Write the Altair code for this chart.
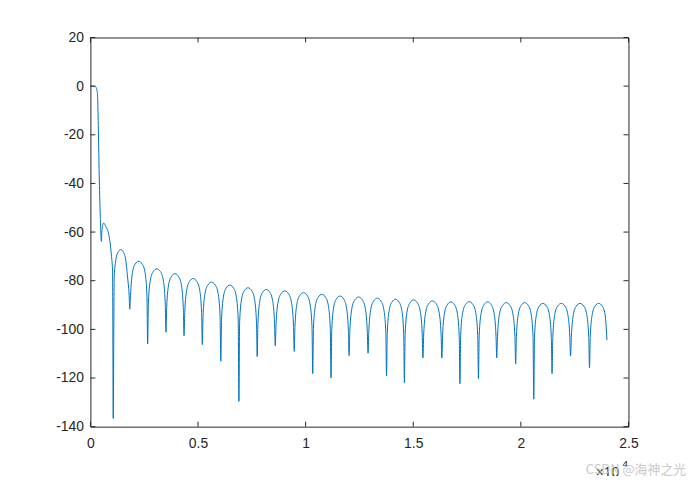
import altair as alt
import pandas as pd

# Frequency in units of 1e4 Hz, magnitude in dB
freq_1e4 = [
    0.000, 0.010, 0.020, 0.026, 0.031, 0.0337, 0.037, 0.0415, 0.046, 0.051,
    0.054, 0.0615, 0.072, 0.0876, 0.098, 0.103, 0.106,
    0.1107, 0.1185, 0.130, 0.1415, 0.153, 0.164, 0.172, 0.180, 0.183,
    0.1863, 0.1955, 0.2079, 0.2245, 0.2411, 0.2536, 0.2627, 0.266,
    0.2694, 0.2788, 0.2915, 0.3085, 0.3255, 0.3383, 0.3476, 0.351,
    0.3544, 0.3636, 0.3762, 0.393, 0.4098, 0.4224, 0.4316, 0.435,
    0.4384, 0.4478, 0.4605, 0.4775, 0.4945, 0.5073, 0.5166, 0.520,
    0.5234, 0.5329, 0.5458, 0.563, 0.5802, 0.5931, 0.6026, 0.606,
    0.6094, 0.6186, 0.6312, 0.648, 0.6648, 0.6774, 0.6866, 0.690,
    0.6934, 0.7028, 0.7155, 0.7325, 0.7495, 0.7623, 0.7716, 0.775,
    0.7784, 0.7876, 0.8002, 0.817, 0.8338, 0.8464, 0.8556, 0.859,
    0.8625, 0.8722, 0.8854, 0.903, 0.9206, 0.9338, 0.9435, 0.947,
    0.9504, 0.9599, 0.9728, 0.990, 1.0072, 1.0201, 1.0296, 1.033,
    1.0364, 1.0458, 1.0585, 1.0755, 1.0925, 1.1053, 1.1146, 1.118,
    1.1214, 1.1306, 1.1432, 1.160, 1.1768, 1.1894, 1.1986, 1.202,
    1.2055, 1.2152, 1.2284, 1.246, 1.2636, 1.2768, 1.2865, 1.290,
    1.2934, 1.3029, 1.3158, 1.333, 1.3502, 1.3631, 1.3726, 1.376,
    1.3793, 1.3885, 1.4009, 1.4175, 1.4341, 1.4466, 1.4557, 1.459,
    1.4624, 1.4719, 1.4848, 1.502, 1.5192, 1.5321, 1.5416, 1.545,
    1.5485, 1.5582, 1.5714, 1.589, 1.6066, 1.6198, 1.6295, 1.633,
    1.6364, 1.6456, 1.6582, 1.675, 1.6918, 1.7044, 1.7136, 1.717,
    1.7204, 1.7299, 1.7428, 1.760, 1.7772, 1.7901, 1.7996, 1.803,
    1.8064, 1.8158, 1.8285, 1.8455, 1.8625, 1.8753, 1.8846, 1.888,
    1.8915, 1.9012, 1.9144, 1.932, 1.9496, 1.9628, 1.9725, 1.976,
    1.9794, 1.9886, 2.0012, 2.018, 2.0348, 2.0474, 2.0566, 2.060,
    2.0634, 2.0728, 2.0855, 2.1025, 2.1195, 2.1323, 2.1416, 2.145,
    2.1484, 2.1579, 2.1708, 2.188, 2.2052, 2.2181, 2.2276, 2.231,
    2.2345, 2.2442, 2.2574, 2.275, 2.2926, 2.3058, 2.3155, 2.319,
    2.3224, 2.3318, 2.3445, 2.3615, 2.3785, 2.3913, 2.400,
]

level_db = [
    0.0, 0.0, -0.1, -0.5, -2.0, -4.6, -18.0, -38.7, -53.6, -63.8,
    -59.0, -56.3, -57.8, -62.0, -70.0, -76.0, -136.6,
    -78.0, -71.3, -68.0, -67.2, -68.2, -71.3, -78.0, -86.0, -91.7,
    -86.0, -76.5, -73.2, -72.0, -73.2, -76.5, -86.0, -106.0,
    -89.1, -79.6, -76.3, -75.1, -76.3, -79.6, -89.1, -101.2,
    -91.1, -81.6, -78.3, -77.1, -78.3, -81.6, -91.1, -102.6,
    -93.1, -83.6, -80.3, -79.1, -80.3, -83.6, -93.1, -106.3,
    -94.6, -85.1, -81.8, -80.6, -81.8, -85.1, -94.6, -113.1,
    -95.8, -86.3, -83.0, -81.8, -83.0, -86.3, -95.8, -129.6,
    -96.9, -87.4, -84.1, -82.9, -84.1, -87.4, -96.9, -111.2,
    -97.6, -88.1, -84.8, -83.6, -84.8, -88.1, -97.6, -106.7,
    -98.2, -88.7, -85.4, -84.2, -85.4, -88.7, -98.2, -109.1,
    -98.9, -89.4, -86.1, -84.9, -86.1, -89.4, -98.9, -118.2,
    -99.6, -90.1, -86.8, -85.6, -86.8, -90.1, -99.6, -120.0,
    -100.3, -90.8, -87.5, -86.3, -87.5, -90.8, -100.3, -110.8,
    -100.7, -91.2, -87.9, -86.7, -87.9, -91.2, -100.7, -109.8,
    -101.2, -91.7, -88.4, -87.2, -88.4, -91.7, -101.2, -119.2,
    -101.6, -92.1, -88.8, -87.6, -88.8, -92.1, -101.6, -121.9,
    -101.9, -92.4, -89.1, -87.9, -89.1, -92.4, -101.9, -111.7,
    -102.3, -92.8, -89.5, -88.3, -89.5, -92.8, -102.3, -111.7,
    -102.7, -93.2, -89.9, -88.7, -89.9, -93.2, -102.7, -122.3,
    -102.6, -93.1, -89.8, -88.6, -89.8, -93.1, -102.6, -120.3,
    -102.7, -93.2, -89.9, -88.7, -89.9, -93.2, -102.7, -111.7,
    -103.0, -93.5, -90.2, -89.0, -90.2, -93.5, -103.0, -114.2,
    -103.0, -93.5, -90.2, -89.0, -90.2, -93.5, -103.0, -128.7,
    -103.3, -93.8, -90.5, -89.3, -90.5, -93.8, -103.3, -118.2,
    -103.3, -93.8, -90.5, -89.3, -90.5, -93.8, -103.3, -111.0,
    -103.3, -93.8, -90.5, -89.3, -90.5, -93.8, -103.3, -115.8,
    -103.3, -93.8, -90.5, -89.3, -90.5, -93.8, -104.4,
]

x_ticks = [0, 0.5, 1, 1.5, 2, 2.5]
y_ticks = [20, 0, -20, -40, -60, -80, -100, -120, -140]

W, H = 542, 392
TICK = 5
AXIS_COLOR = "#262626"
FONT = "Liberation Sans"

df = pd.DataFrame({"f": freq_1e4, "db": level_db})
xt = pd.DataFrame({"v": x_ticks})
yt = pd.DataFrame({"v": y_ticks})

xscale = alt.Scale(domain=[0, 2.5], nice=False, zero=False)
yscale = alt.Scale(domain=[-140, 20], nice=False, zero=False)

line = alt.Chart(df).mark_line(
    color="#0072BD", strokeWidth=1, interpolate="monotone"
).encode(
    x=alt.X("f:Q", scale=xscale, title=None,
            axis=alt.Axis(values=x_ticks, labelExpr="toString(datum.value)",
                          ticks=False, domain=False, grid=False,
                          labelPadding=10, labelFontSize=14, labelFont=FONT,
                          labelColor=AXIS_COLOR, labelFlush=False)),
    y=alt.Y("db:Q", scale=yscale, title=None,
            axis=alt.Axis(values=y_ticks, labelExpr="toString(datum.value)",
                          ticks=False, domain=False, grid=False,
                          labelPadding=7, labelFontSize=14, labelFont=FONT,
                          labelColor=AXIS_COLOR, labelFlush=False)),
)

tick_style = dict(color=AXIS_COLOR, strokeWidth=1)
xb = alt.Chart(xt).mark_rule(**tick_style).encode(
    x=alt.X("v:Q", scale=xscale), y=alt.value(H), y2=alt.value(H - TICK))
xtp = alt.Chart(xt).mark_rule(**tick_style).encode(
    x=alt.X("v:Q", scale=xscale), y=alt.value(0), y2=alt.value(TICK))
yl = alt.Chart(yt).mark_rule(**tick_style).encode(
    y=alt.Y("v:Q", scale=yscale), x=alt.value(0), x2=alt.value(TICK))
yr = alt.Chart(yt).mark_rule(**tick_style).encode(
    y=alt.Y("v:Q", scale=yscale), x=alt.value(W), x2=alt.value(W - TICK))

mult = alt.Chart(pd.DataFrame({"t": ["×10"]})).mark_text(
    align="left", baseline="alphabetic", fontSize=14, font=FONT, color=AXIS_COLOR
).encode(text="t:N", x=alt.value(509), y=alt.value(443))
expo = alt.Chart(pd.DataFrame({"t": ["4"]})).mark_text(
    align="left", baseline="alphabetic", fontSize=10, font=FONT, color=AXIS_COLOR
).encode(text="t:N", x=alt.value(536), y=alt.value(433))
wm = alt.Chart(pd.DataFrame({"t": ["CSDN @海神之光"]})).mark_text(
    align="left", baseline="alphabetic", fontSize=13, font="Noto Sans CJK SC",
    color="#c4c4c4", opacity=0.9
).encode(text="t:N", x=alt.value(499), y=alt.value(440))

chart = alt.layer(line, xb, xtp, yl, yr, mult, expo, wm).properties(
    width=W, height=H,
    autosize=alt.AutoSizeParams(type="none"),
    padding={"left": 83, "top": 28, "right": 64, "bottom": 48},
    background="white",
).configure_view(
    stroke=AXIS_COLOR, strokeWidth=1
)

chart.save("out.html", embed_options={"renderer": "svg", "actions": False})
